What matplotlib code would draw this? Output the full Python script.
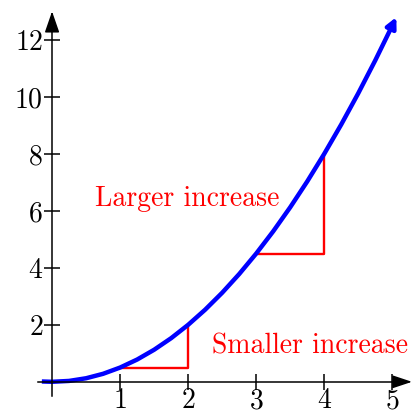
import matplotlib
matplotlib.use("Agg")
import matplotlib.pyplot as plt

plt.rcParams['font.family'] = ['cmr10', 'DejaVu Serif']
plt.rcParams['axes.formatter.use_mathtext'] = True

# curve
curve_x = [-0.15, 0, 0.25, 0.5, 0.75, 1, 1.25, 1.5, 1.75, 2, 2.25, 2.5, 2.75,
           3, 3.25, 3.5, 3.75, 4, 4.25, 4.5, 4.75, 5, 5.06]
curve_y = [0.011, 0, 0.031, 0.125, 0.281, 0.5, 0.781, 1.125, 1.531, 2, 2.531,
           3.125, 3.781, 4.5, 5.281, 6.125, 7.031, 8, 9.031, 10.125, 11.281,
           12.5, 12.8]

# red step triangles
small_x = [1, 2, 2]
small_y = [0.5, 0.5, 2]
large_x = [3, 4, 4]
large_y = [4.5, 4.5, 8]

xticks = [1, 2, 3, 4, 5]
yticks = [2, 4, 6, 8, 10, 12]

fig = plt.figure(figsize=(4.12, 4.16), dpi=100)
ax = fig.add_axes([0, 0, 1, 1])
ax.set_xlim(-0.765, 5.29)
ax.set_ylim(-1.2, 13.4)

for s in ['top', 'right']:
    ax.spines[s].set_visible(False)
ax.spines['left'].set_position(('data', 0))
ax.spines['bottom'].set_position(('data', 0))
ax.spines['left'].set_bounds(-0.5, 12.9)
ax.spines['bottom'].set_bounds(-0.2, 5.2)
ax.spines['left'].set_linewidth(1.1)
ax.spines['bottom'].set_linewidth(1.1)

# axis arrowheads
ax.annotate('', xy=(5.29, 0), xytext=(5.0, 0),
            arrowprops=dict(arrowstyle='-|>,head_length=1.2,head_width=0.4',
                            color='black', lw=1.1, shrinkA=0, shrinkB=0))
ax.annotate('', xy=(0, 13.0), xytext=(0, 12.3),
            arrowprops=dict(arrowstyle='-|>,head_length=1.3,head_width=0.45',
                            color='black', lw=1.1, shrinkA=0, shrinkB=0))

ax.set_xticks(xticks)
ax.set_yticks(yticks)
ax.tick_params(direction='inout', length=11, width=1.1, labelsize=20, pad=1)
ax.tick_params(axis='x', pad=-1)

ax.plot(small_x, small_y, color='red', lw=1.7)
ax.plot(large_x, large_y, color='red', lw=1.7)

ax.plot(curve_x[:-1], curve_y[:-1], color='blue', lw=3.2, solid_capstyle='butt')
ax.annotate('', xy=(curve_x[-1], curve_y[-1]), xytext=(curve_x[-2], curve_y[-2]),
            arrowprops=dict(arrowstyle='-|>,head_length=0.6,head_width=0.3',
                            color='blue', lw=3.2, shrinkA=0, shrinkB=0))

ax.text(0.63, 6.18, 'Larger increase', color='red', fontsize=20)
ax.text(2.35, 0.98, 'Smaller increase', color='red', fontsize=20)

fig.savefig('out.png', dpi=100)
